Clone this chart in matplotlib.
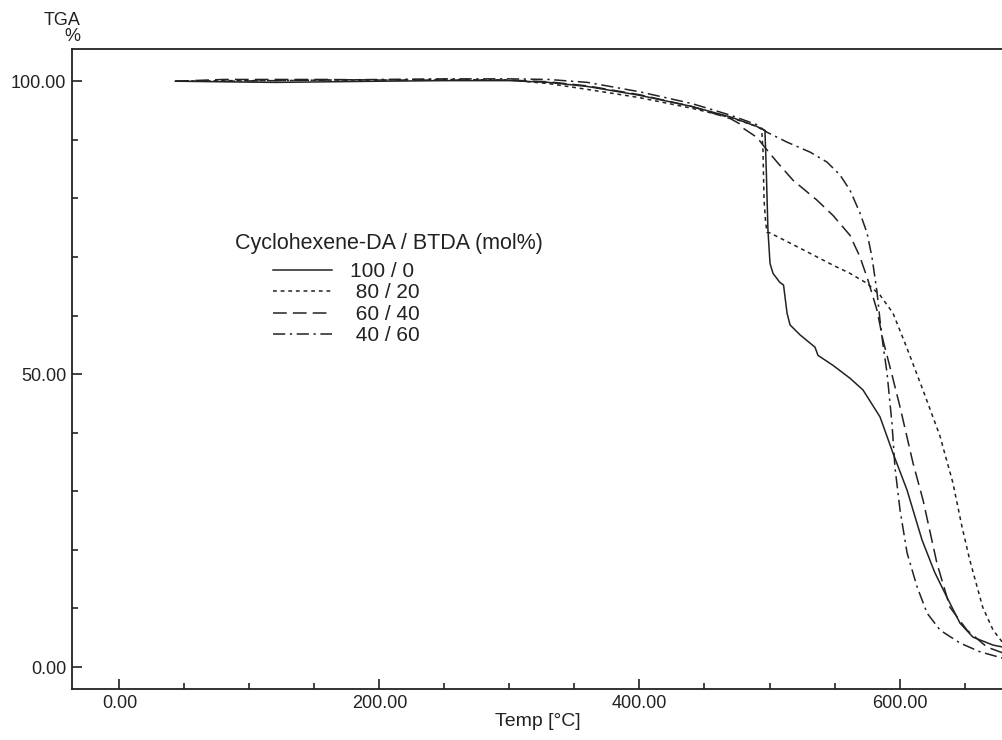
import matplotlib
matplotlib.use("Agg")
import matplotlib.pyplot as plt
from matplotlib.ticker import MultipleLocator, FormatStrFormatter
from matplotlib.lines import Line2D

plt.rcParams['font.family'] = ['Liberation Sans', 'DejaVu Sans']

# TGA curves: temperature [C] and weight [%]
t_100_0 = [43, 80, 120, 160, 200, 250, 300, 330, 360, 400, 440, 470, 490, 496.5, 497.5,
           498.8, 500.4, 502.7, 507.8, 510.8, 513.5, 515.8, 523.5, 535, 537.3, 548.8,
           561.9, 571.9, 585, 595, 605.8, 617.3, 627, 636.5, 646.5, 656.5, 671.9, 679.6]
w_100_0 = [100.0, 99.9, 99.8, 99.9, 100.0, 100.1, 100.1, 99.8, 99.1, 97.6, 95.7, 93.9, 92.3, 91.6, 85,
           74.6, 68.9, 67.2, 65.7, 65.2, 60.4, 58.4, 56.7, 54.6, 53.2, 51.5,
           49.3, 47.3, 42.7, 36.5, 30.2, 21.7, 16.2, 11.9, 7.5, 5.1, 3.75, 3.4]

t_80_20 = [43, 80, 120, 160, 200, 250, 300, 330, 360, 400, 440, 470, 490, 494, 495,
           495.8, 497, 498, 500.4, 523.5, 548.8, 561.9, 575, 585, 595, 605.8, 618,
           631, 641, 648, 654, 664, 672, 679.6]
w_80_20 = [100.0, 100.1, 100.1, 100.2, 100.2, 100.3, 100.2, 99.6, 98.6, 97.2, 95.4, 93.8, 92.3, 91.8, 88,
           79.7, 76, 74.2, 74.1, 71.5, 68.6, 67.2, 65.5, 63.5, 60.4, 54.4, 47.3,
           39.5, 31.5, 24, 18.3, 10.2, 6.3, 4.1]

t_60_40 = [43, 80, 120, 160, 200, 250, 300, 330, 360, 400, 440, 470, 477.3, 479.6, 490.4,
           495, 505.8, 518.1, 536.5, 548.8, 561.9, 569.6, 575.8, 582.7, 587.3, 593.5,
           600.4, 610.4, 618.1, 628.8, 638.8, 651.9, 667.3, 679.6]
w_60_40 = [100.0, 100.3, 100.3, 100.3, 100.2, 100.2, 100.2, 99.9, 99.2, 97.7, 95.7, 93.6, 92.7, 92.0, 90.4,
           89.1, 86.2, 83.1, 79.7, 77.1, 73.7, 70.0, 66.0, 60.9, 55.8, 50.5,
           44.4, 34.8, 28.5, 17.7, 10.2, 6.3, 3.4, 2.4]

t_40_60 = [43, 80, 120, 160, 200, 250, 300, 330, 360, 400, 440, 470, 490, 498, 513.5,
           531.2, 544.2, 554.2, 561.9, 569.6, 575, 578.8, 582.7, 585, 587.3, 590.4,
           594.2, 596.5, 600.4, 605.8, 613.5, 621.2, 631.2, 646.5, 661.9, 679.6]
w_40_60 = [100.0, 100.0, 100.1, 100.2, 100.3, 100.4, 100.4, 100.3, 99.8, 98.2, 96.2, 94.2, 92.6, 91.3, 89.6,
           87.9, 86.2, 84.0, 81.4, 77.5, 74.1, 70.0, 64.0, 59.2, 55.0, 50.2,
           41.6, 34.1, 26.8, 19.5, 13.7, 9.2, 6.3, 4.1, 2.6, 1.5]

labels = ["100 / 0", " 80 / 20", " 60 / 40", " 40 / 60"]
legend_title = "Cyclohexene-DA / BTDA (mol%)"

ink = "#222222"
styles = ["-", (0, (2.5, 2.5)), (0, (9, 4)), (0, (8, 3, 1.5, 3))]

fig = plt.figure(figsize=(10.03, 7.40), dpi=100)
ax = fig.add_axes([72 / 1003, 1 - 689 / 740, 1 - 72 / 1003, (689 - 49) / 740])

series = [(t_100_0, w_100_0), (t_80_20, w_80_20), (t_60_40, w_60_40), (t_40_60, w_40_60)]
for (t, w), ls in zip(series, styles):
    ax.plot(t, w, color=ink, lw=1.1, linestyle=ls)

ax.set_xlim(-36.5, 679.6)
ax.set_ylim(-3.75, 105.5)

ax.xaxis.set_major_locator(MultipleLocator(200))
ax.xaxis.set_minor_locator(MultipleLocator(50))
ax.yaxis.set_major_locator(MultipleLocator(50))
ax.yaxis.set_minor_locator(MultipleLocator(10))
ax.xaxis.set_major_formatter(FormatStrFormatter("%.2f"))
ax.yaxis.set_major_formatter(FormatStrFormatter("%.2f"))
ax.tick_params(which="both", direction="in", color=ink, labelcolor=ink, labelsize=13, width=1.2)
ax.tick_params(which="major", length=7, pad=4)
ax.tick_params(which="minor", length=4)
ax.tick_params(axis="x", which="both", top=False)
ax.tick_params(axis="y", which="both", right=False)

ax.spines["right"].set_visible(False)
for s in ["left", "bottom", "top"]:
    ax.spines[s].set_color(ink)
    ax.spines[s].set_linewidth(1.3)

ax.set_xlabel("Temp [\u00b0C]", fontsize=14, color=ink, labelpad=1)
fig.text(81 / 1003, 1 - 12 / 740, "TGA\n   %", fontsize=13, color=ink,
         ha="right", va="top", linespacing=0.95)

fig.text(235 / 1003, 1 - 243.5 / 740, legend_title, fontsize=15.5, color=ink, va="center")
handles = [Line2D([], [], color=ink, lw=1.1, linestyle=ls) for ls in styles]
fig.legend(handles, labels, loc="upper left", bbox_to_anchor=(273 / 1003, 1 - 262 / 740),
           frameon=False, fontsize=15, handlelength=2.85, handletextpad=0.85,
           labelspacing=0.12, borderpad=0, borderaxespad=0, labelcolor=ink)

fig.savefig("out.png", dpi=100)
